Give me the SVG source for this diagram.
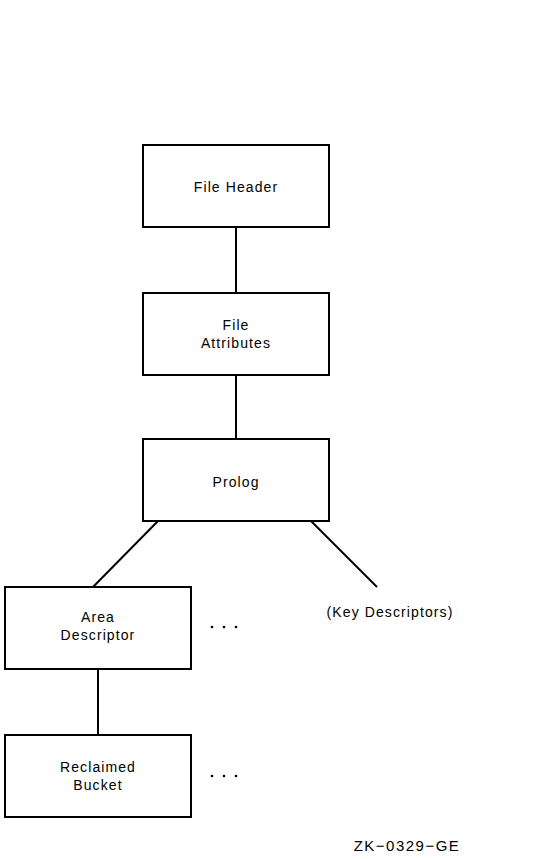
<svg xmlns="http://www.w3.org/2000/svg" width="557" height="859" viewBox="0 0 557 859">
<style>
.box{fill:#fff;stroke:#000;stroke-width:2}
.t{font-family:"Liberation Sans",Arial,sans-serif;font-size:14px;letter-spacing:1.1px;text-anchor:middle;fill:#000}
.c{stroke:#000;stroke-width:2;fill:none}
</style>
<rect width="557" height="859" fill="#fff"/>
<g id="connectors">
<line class="c" x1="236" y1="227" x2="236" y2="293"/>
<line class="c" x1="236" y1="375" x2="236" y2="439"/>
<line class="c" x1="158" y1="521" x2="93" y2="587"/>
<line class="c" x1="311" y1="521" x2="377" y2="587"/>
<line class="c" x1="98" y1="669" x2="98" y2="735"/>
</g>
<g id="file-header">
<rect class="box" x="143" y="145" width="186" height="82"/>
<text class="t" x="236" y="192">File Header</text>
</g>
<g id="file-attributes">
<rect class="box" x="143" y="293" width="186" height="82"/>
<text class="t" x="236" y="330">File</text>
<text class="t" x="236" y="348">Attributes</text>
</g>
<g id="prolog">
<rect class="box" x="143" y="439" width="186" height="82"/>
<text class="t" x="236" y="487">Prolog</text>
</g>
<g id="area-descriptor">
<rect class="box" x="5" y="587" width="186" height="82"/>
<text class="t" x="98" y="622">Area</text>
<text class="t" x="98" y="640">Descriptor</text>
</g>
<g id="key-descriptors">
<text class="t" x="390" y="617">(Key Descriptors)</text>
</g>
<g id="area-more">
<circle cx="212" cy="627" r="1.3"/><circle cx="224" cy="627" r="1.3"/><circle cx="236" cy="627" r="1.3"/>
</g>
<g id="reclaimed-bucket">
<rect class="box" x="5" y="735" width="186" height="82"/>
<text class="t" x="98" y="772">Reclaimed</text>
<text class="t" x="98" y="790">Bucket</text>
</g>
<g id="bucket-more">
<circle cx="212" cy="776" r="1.3"/><circle cx="224" cy="776" r="1.3"/><circle cx="236" cy="776" r="1.3"/>
</g>
<text class="t" x="407" y="851" style="font-size:15px;letter-spacing:1.5px">ZK−0329−GE</text>
</svg>
